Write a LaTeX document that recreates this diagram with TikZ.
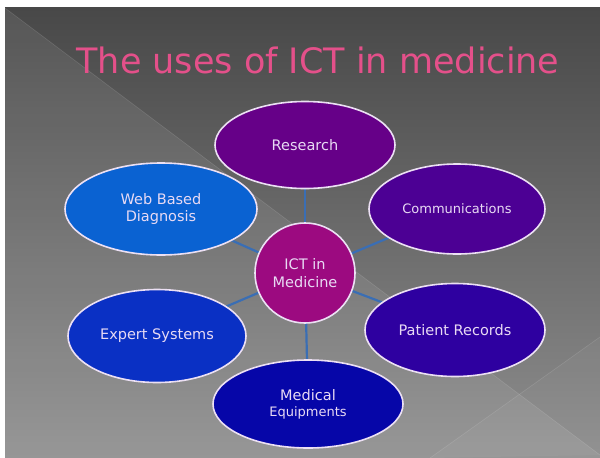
\documentclass[tikz,border=0pt]{standalone}
\usepackage{fontspec}
\setmainfont{DejaVu Sans}
\usetikzlibrary{shapes.geometric}
\definecolor{slidetop}{HTML}{484848}
\definecolor{slidebot}{HTML}{8E8E8E}
\definecolor{titlepink}{HTML}{E4508A}
\definecolor{linkblue}{HTML}{3A6EB4}
\definecolor{rimcol}{HTML}{ECE0F4}
\definecolor{labelcol}{HTML}{E8DAF4}
\definecolor{cHub}{HTML}{9C0A80}
\definecolor{cResearch}{HTML}{660088}
\definecolor{cComm}{HTML}{4C0094}
\definecolor{cPatient}{HTML}{2E00A0}
\definecolor{cMedical}{HTML}{0606A8}
\definecolor{cExpert}{HTML}{0A30C4}
\definecolor{cWeb}{HTML}{0A62D2}
\pgfdeclarelayer{slide}
\pgfdeclarelayer{links}
\pgfsetlayers{slide,links,main}
\tikzset{
  topic/.style={ellipse, draw=rimcol, line width=1.6pt, inner sep=0pt,
    text=labelcol, align=center, font=\fontsize{14.5}{17}\selectfont},
  hub/.style={circle, draw=rimcol, line width=1.6pt, inner sep=0pt,
    minimum size=100pt, fill=cHub, text=labelcol, align=center,
    font=\fontsize{14.5}{18}\selectfont},
  link/.style={draw=linkblue, line width=2.2pt},
  band/.style={white, line width=0.6pt, opacity=0.12}
}
\begin{document}
\begin{tikzpicture}[x=1pt, y=-1pt]
\useasboundingbox (0,0) rectangle (600,458);
\begin{pgfonlayer}{slide}
\fill[white] (0,0) rectangle (600,458);
% slide background
\shade[top color=slidetop, bottom color=slidebot] (5,7) rectangle (600,458);
\fill[white, opacity=0.08] (5,8) -- (600,455) -- (600,458) -- (5,458) -- cycle;
\fill[white, opacity=0.04] (430,458) -- (600,337) -- (600,455) -- cycle;
\draw[band] (5,8) -- (600,455);
\draw[band] (430,458) -- (600,337);
\end{pgfonlayer}
% title
\node[anchor=base, text=titlepink, font=\fontsize{35}{40}\selectfont, inner sep=0pt]
  (title) at (318,73) {The uses of ICT in medicine};
% topics
\node[hub] (hub) at (305,273) {ICT in\\Medicine};
\node[topic, fill=cResearch, minimum width=180pt, minimum height=87pt]
  (research) at (305,145) {Research};
\node[topic, fill=cComm, minimum width=176pt, minimum height=90pt,
  font=\fontsize{13}{16}\selectfont]
  (comm) at (457,209) {Communications};
\node[topic, fill=cPatient, minimum width=180pt, minimum height=93pt]
  (patient) at (455,330) {Patient Records};
\node[topic, fill=cMedical, minimum width=190pt, minimum height=88pt]
  (medical) at (308,404) {Medical\\[-1pt]{\fontsize{13}{16}\selectfont Equipments}};
\node[topic, fill=cExpert, minimum width=178pt, minimum height=93pt]
  (expert) at (157,336) {Expert Systems};
\node[topic, fill=cWeb, minimum width=192pt, minimum height=92pt]
  (web) at (161,209) {Web Based\\Diagnosis};
% spokes, drawn beneath the shapes
\begin{pgfonlayer}{links}
\foreach \t in {research,comm,patient,medical,expert,web}
  \draw[link] (hub.center) -- (\t.center);
\end{pgfonlayer}
\end{tikzpicture}
\end{document}
